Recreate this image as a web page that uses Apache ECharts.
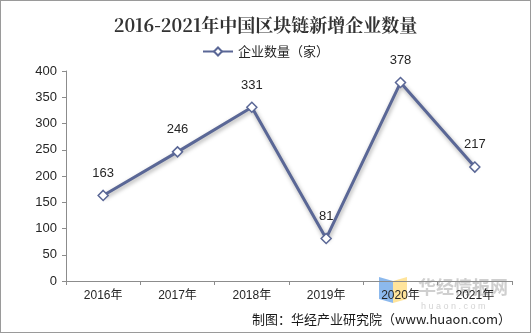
<!DOCTYPE html>
<html>
<head>
<meta charset="utf-8">
<script src="https://cdn.jsdelivr.net/npm/echarts@6/dist/echarts.min.js"></script>
<style>
  html, body { margin: 0; padding: 0; background: #fff; }
  #chart { width: 531px; height: 333px; box-sizing: border-box; border: 1px solid #9a9a9a; }
</style>
</head>
<body>
<div id="chart"></div>
<script>
// Newly registered blockchain companies in China per year
const years = ['2016年', '2017年', '2018年', '2019年', '2020年', '2021年'];
const companyCounts = [163, 246, 331, 81, 378, 217];
const yTicks = [0, 50, 100, 150, 200, 250, 300, 350, 400];

const lineColor = '#5a6796';
const textColor = '#262626';
const axisColor = '#8c8c8c';

const chart = echarts.init(document.getElementById('chart'), null, { renderer: 'canvas' });

chart.setOption({
  animation: false,
  title: {
    text: '2016-2021年中国区块链新增企业数量',
    left: 'center',
    top: 10,
    textStyle: {
      fontFamily: '"Noto Serif CJK SC", "Noto Sans CJK SC", serif',
      fontSize: 18,
      fontWeight: 'bold',
      color: '#333333'
    }
  },
  legend: {
    top: 39,
    left: 'center',
    itemWidth: 30,
    itemHeight: 10,
    itemGap: 4,
    textStyle: { fontFamily: '"Noto Sans CJK SC", sans-serif', fontSize: 13, color: textColor },
    data: ['企业数量（家）']
  },
  grid: { left: 65, right: 18, top: 70, bottom: 51, containLabel: false },
  xAxis: {
    type: 'category',
    data: years,
    boundaryGap: true,
    axisLine: { lineStyle: { color: axisColor, width: 1 } },
    axisTick: { show: true, alignWithLabel: false, length: 4, lineStyle: { color: axisColor } },
    axisLabel: {
      color: textColor,
      fontFamily: '"Liberation Sans", "Noto Sans CJK SC", sans-serif',
      fontSize: 12,
      margin: 9
    }
  },
  yAxis: {
    type: 'value',
    min: yTicks[0],
    max: yTicks[yTicks.length - 1],
    interval: 50,
    axisLine: { show: true, lineStyle: { color: axisColor, width: 1 } },
    axisTick: { show: true, length: 4, lineStyle: { color: axisColor } },
    splitLine: { show: false },
    axisLabel: {
      color: textColor,
      fontFamily: '"Liberation Sans", sans-serif',
      fontSize: 13,
      margin: 9
    }
  },
  graphic: [
    {
      type: 'text',
      right: 19,
      bottom: 6,
      style: {
        text: '制图：华经产业研究院（www.huaon.com）',
        font: '13px "Noto Sans CJK SC", sans-serif',
        fill: '#1a1a1a'
      }
    },
    {
      type: 'group',
      left: 378,
      top: 276,
      silent: true,
      children: [
        { type: 'polygon', shape: { points: [[0, 0], [14, 4], [14, 26], [0, 22]] }, style: { fill: 'rgba(91,155,230,0.7)' } },
        { type: 'polygon', shape: { points: [[14, 4], [28, 0], [28, 22], [14, 26]] }, style: { fill: 'rgba(255,214,102,0.65)' } },
        { type: 'text', x: 39, y: 1, style: { text: '华经情报网', font: 'bold 18px "Noto Sans CJK SC", sans-serif', fill: 'rgba(160,160,160,0.5)' } },
        { type: 'text', x: 42, y: 25, style: { text: 'h u a o n . c o m', font: '9px "Liberation Sans", sans-serif', fill: 'rgba(170,170,170,0.5)' } }
      ]
    }
  ],
  series: [
    {
      name: '企业数量（家）',
      type: 'line',
      data: companyCounts,
      symbol: 'diamond',
      symbolSize: 10,
      lineStyle: {
        color: lineColor,
        width: 3,
        shadowColor: 'rgba(0,0,0,0.35)',
        shadowBlur: 4,
        shadowOffsetX: 1,
        shadowOffsetY: 2
      },
      itemStyle: { color: '#ffffff', borderColor: lineColor, borderWidth: 1.5 },
      label: {
        show: true,
        position: 'top',
        distance: 10,
        color: textColor,
        fontFamily: '"Liberation Sans", sans-serif',
        fontSize: 13
      }
    }
  ]
});
</script>
</body>
</html>
